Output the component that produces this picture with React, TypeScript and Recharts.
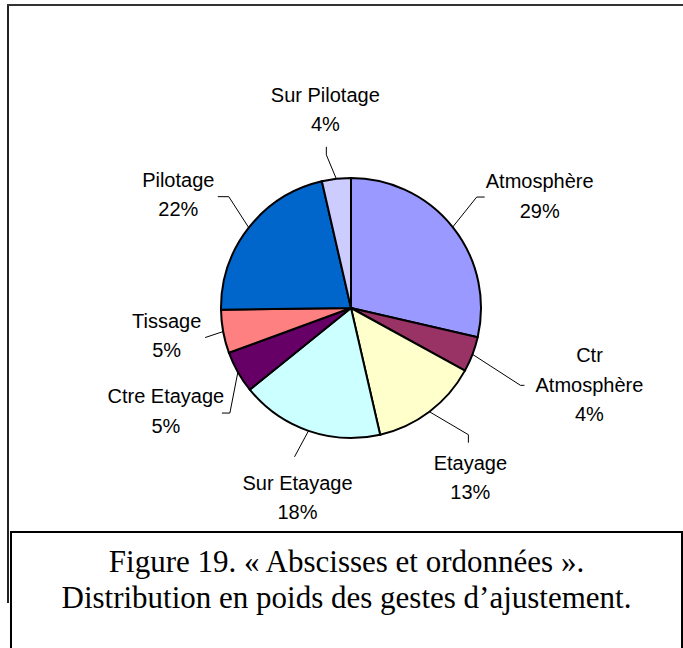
import { Cell, Pie, PieChart } from "recharts";

const CATEGORIES = [
  "Atmosphère",
  "Ctr Atmosphère",
  "Etayage",
  "Sur Etayage",
  "Ctre Etayage",
  "Tissage",
  "Pilotage",
  "Sur Pilotage",
];
const WEIGHTS = [28.6, 4.4, 13.4, 17.8, 5.2, 5.4, 21.6, 3.6];
const COLORS = ["#9999FF", "#993366", "#FFFFCC", "#CCFFFF", "#660066", "#FF8080", "#0066CC", "#CCCCFF"];

const data = CATEGORIES.map((name, i) => ({ name, value: WEIGHTS[i] }));

// leader line: edge point -> bend -> stub end, then text block offset from the stub end
type Leader = { bend: [number, number]; stub: [number, number]; text: [number, number]; wrap?: boolean };
const LEADERS: Leader[] = [
  { bend: [24, -30], stub: [8, 0], text: [55, -9] },
  { bend: [48, 31], stub: [4, 0], text: [65, -23], wrap: true },
  { bend: [39, 23], stub: [0, 8], text: [2, 27] },
  { bend: [-14, 26], stub: [0, 0], text: [3, 33] },
  { bend: [-8, 41], stub: [-8, 0], text: [-56, -10] },
  { bend: [-18, 6], stub: [0, 0], text: [-38.5, -10] },
  { bend: [-20, -31], stub: [-11, 0], text: [-39.5, -10] },
  { bend: [-10, -24], stub: [0, -8], text: [-1, -45] },
];

const LABEL_FONT = "'Liberation Sans', Arial, sans-serif";

function PieLabel(props: any) {
  const { cx, cy, midAngle, outerRadius, index, percent } = props;
  const rad = (-midAngle * Math.PI) / 180;
  const x0 = cx + outerRadius * Math.cos(rad);
  const y0 = cy + outerRadius * Math.sin(rad);
  const L = LEADERS[index];
  const x1 = x0 + L.bend[0];
  const y1 = y0 + L.bend[1];
  const x2 = x1 + L.stub[0];
  const y2 = y1 + L.stub[1];
  const name = CATEGORIES[index];
  const lines = L.wrap ? name.split(" ") : [name];
  lines.push(`${Math.round(percent * 100)}%`);
  const tx = x2 + L.text[0];
  const ty = y2 + L.text[1];
  return (
    <g>
      <polyline points={`${x0},${y0} ${x1},${y1} ${x2},${y2}`} fill="none" stroke="#000" strokeWidth={1} />
      <text x={tx} y={ty} textAnchor="middle" fontFamily={LABEL_FONT} fontSize={20} fill="#000">
        {lines.map((t, k) => (
          <tspan key={k} x={tx} dy={k === 0 ? 0 : 29.5}>
            {t}
          </tspan>
        ))}
      </text>
    </g>
  );
}

export default function App() {
  return (
    <div style={{ position: "absolute", left: 0, top: 0, width: 683, height: 648, background: "#fff", overflow: "hidden" }}>
      <div style={{ position: "absolute", left: 7, top: 4, width: 2, height: 599, background: "#222" }} />
      <div style={{ position: "absolute", left: 7, top: 4, width: 676, height: 2, background: "#333" }} />

      <div style={{ position: "absolute", left: 0, top: 0 }}>
        <PieChart width={683} height={530}>
          <Pie
            data={data}
            dataKey="value"
            nameKey="name"
            cx={346}
            cy={303}
            outerRadius={130}
            startAngle={90}
            endAngle={-270}
            stroke="#000"
            strokeWidth={2}
            labelLine={false}
            label={PieLabel}
            isAnimationActive={false}
          >
            {data.map((d, i) => (
              <Cell key={d.name} fill={COLORS[i]} />
            ))}
          </Pie>
        </PieChart>
      </div>

      <div
        style={{
          position: "absolute",
          left: 10,
          top: 531,
          width: 673,
          height: 130,
          boxSizing: "border-box",
          border: "2px solid #000",
          background: "#fff",
        }}
      />
      <div
        style={{
          position: "absolute",
          left: 10,
          top: 544,
          width: 673,
          textAlign: "center",
          fontFamily: "'Liberation Serif', 'Times New Roman', serif",
          fontSize: 31,
          lineHeight: "36px",
          color: "#000",
        }}
      >
        Figure 19. « Abscisses et ordonnées ».
        <br />
        Distribution en poids des gestes d’ajustement.
      </div>
    </div>
  );
}
